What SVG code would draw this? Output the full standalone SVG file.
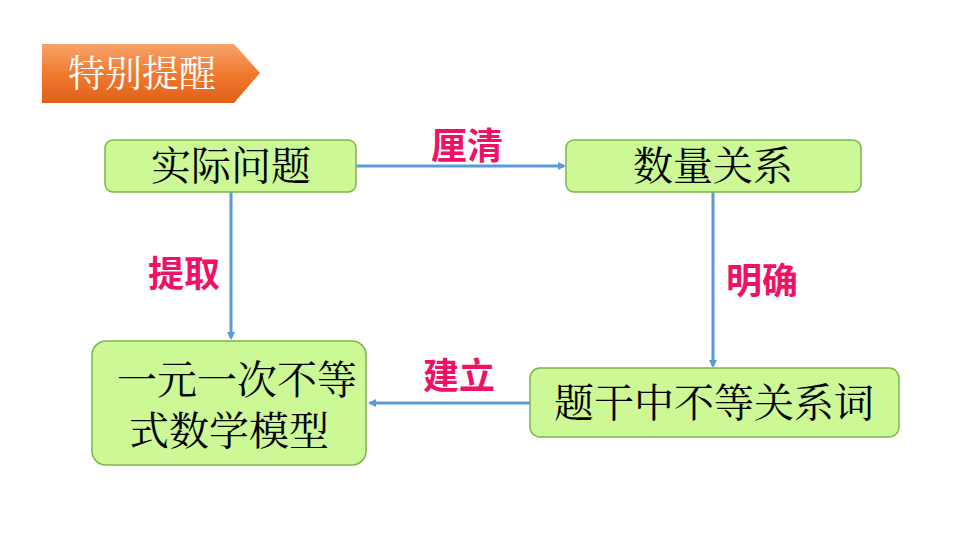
<svg xmlns="http://www.w3.org/2000/svg" width="960" height="540" viewBox="0 0 960 540">
<style>
.n{fill:#ccf996;stroke:#7cb54a;stroke-width:1.5}
.t{font-family:"Noto Serif CJK SC","Noto Sans CJK SC",serif;font-size:40px;fill:#000;text-anchor:middle}
.l{font-family:"Noto Sans CJK SC",sans-serif;font-size:36px;font-weight:bold;fill:#ee1166;text-anchor:middle}
.c{stroke:#5b9bd5;stroke-width:3;fill:none;marker-end:url(#a)}
</style>
<defs>
<linearGradient id="g" x1="0" y1="0" x2="0" y2="1"><stop offset="0" stop-color="#f7a36a"/><stop offset="0.5" stop-color="#f07a30"/><stop offset="1" stop-color="#e0601a"/></linearGradient>
<marker id="a" markerWidth="8" markerHeight="8" refX="6" refY="4" orient="auto" markerUnits="userSpaceOnUse"><path d="M0,0L8,4L0,8z" fill="#5b9bd5"/></marker>
</defs>
<rect width="960" height="540" fill="#fff"/>
<g id="badge"><path d="M42,44H234L260,73L234,103H42z" fill="url(#g)"/><text x="142" y="87" font-family="Noto Serif CJK SC,Noto Sans CJK SC,serif" font-size="37" fill="#fff" text-anchor="middle">特别提醒</text></g>
<g id="connectors">
<path class="c" d="M356,166H564"/>
<path class="c" d="M231,192V338"/>
<path class="c" d="M713,192V366"/>
<path class="c" d="M530,403H370"/>
</g>
<g id="n1"><rect class="n" x="105" y="140" width="251" height="52" rx="8"/><text class="t" x="231" y="180">实际问题</text></g>
<g id="n2"><rect class="n" x="566" y="140" width="295" height="52" rx="8"/><text class="t" x="713" y="180">数量关系</text></g>
<g id="n3"><rect class="n" x="92" y="341" width="274" height="124" rx="14"/><text class="t" x="237" y="394" font-size="38">一元一次不等</text><text class="t" x="229" y="445" font-size="38">式数学模型</text></g>
<g id="n4"><rect class="n" x="530" y="368" width="369" height="69" rx="10"/><text class="t" x="714" y="417">题干中不等关系词</text></g>
<text class="l" x="467" y="159">厘清</text>
<text class="l" x="184" y="287">提取</text>
<text class="l" x="762" y="294">明确</text>
<text class="l" x="459" y="389">建立</text>
</svg>
